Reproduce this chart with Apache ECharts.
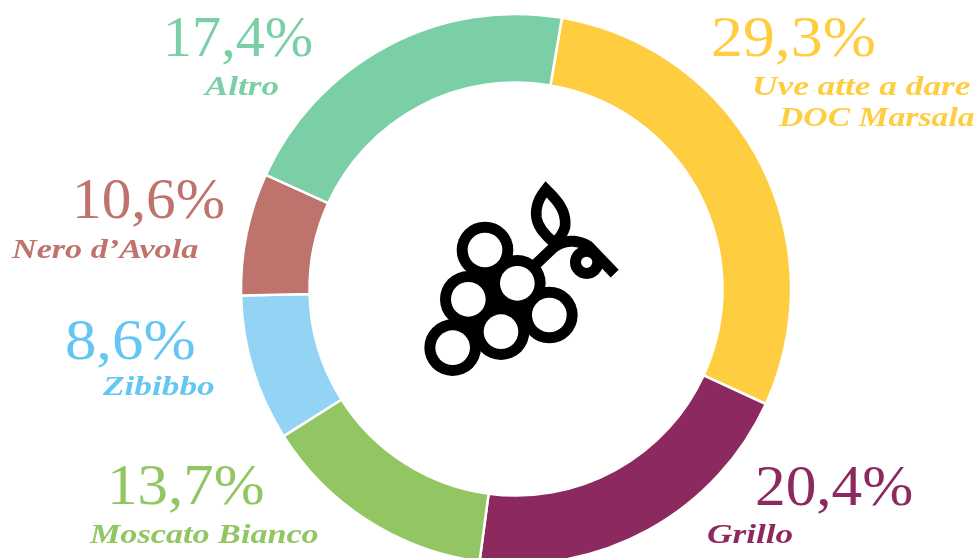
<!DOCTYPE html>
<html>
<head>
<meta charset="utf-8">
<style>html,body{margin:0;padding:0;background:#fff}#c{width:978px;height:558px}</style>
<script src="https://cdn.jsdelivr.net/npm/echarts@6/dist/echarts.min.js"></script>
</head>
<body>
<div id="c"></div>
<script>
const names = ['Uve atte a dare\nDOC Marsala', 'Grillo', 'Moscato Bianco', 'Zibibbo', "Nero d’Avola", 'Altro'];
// Percentages as printed on the chart
const printedShares = [29.3, 20.4, 13.7, 8.6, 10.6, 17.4];
// Slice sizes as measured from the ring (the picture's arcs differ from its printed labels)
const sliceValues = [29.2, 20.25, 13.9, 8.6, 7.2, 20.85];
const sliceColors = ['#FFCD40', '#8C2A5F', '#92C662', '#93D4F4', '#BE736D', '#7BCFA6'];
const textColors = ['#FFCD40', '#8C2A5F', '#92C662', '#64C6F2', '#BE736D', '#7BCFA6'];

const percentAnchors = [[711, 41], [755, 490], [107, 489], [65, 344], [72, 203], [163, 41]];
const percentStretch = [1.12, 1.075, 1.07, 1.10, 1.04, 1.02];
const nameAnchors = [[752, 88], [707, 536], [90, 536], [103, 388], [12, 251], [205, 88]];
const nameStretch = [1.26, 1.26, 1.22, 1.26, 1.22, 1.25];
const serif = '"Liberation Serif", serif';

const texts = [];
printedShares.forEach((v, i) => {
  texts.push({
    type: 'text', silent: true, x: percentAnchors[i][0], y: percentAnchors[i][1], scaleX: percentStretch[i],
    style: { text: v.toFixed(1).replace('.', ',') + '%', fill: textColors[i], font: '400 57px ' + serif, textAlign: 'left', textVerticalAlign: 'middle' }
  });
  names[i].split('\n').forEach((line, k) => {
    texts.push({
      type: 'text', silent: true, x: nameAnchors[i][0] + (k ? 27 : 0), y: nameAnchors[i][1] + k * 31, scaleX: nameStretch[i] * (k ? 0.955 : 1),
      style: { text: line, fill: textColors[i], font: 'italic 700 28px ' + serif, textAlign: 'left', textVerticalAlign: 'middle' }
    });
  });
});

// Sample cubic segments into outline points for the decorative grape icon.
function outline(start, curves) {
  const pts = [start];
  let p0 = start;
  curves.forEach(c => {
    if (c.length === 2) { pts.push(c); p0 = c; return; }
    const p3 = [c[4], c[5]];
    for (let s = 1; s <= 24; s++) {
      const t = s / 24, u = 1 - t;
      pts.push([
        u*u*u*p0[0] + 3*u*u*t*c[0] + 3*u*t*t*c[2] + t*t*t*p3[0],
        u*u*u*p0[1] + 3*u*u*t*c[1] + 3*u*t*t*c[3] + t*t*t*p3[1]
      ]);
    }
    p0 = p3;
  });
  return pts;
}

const berries = [[225, 240], [322, 340], [175, 388], [418, 435], [273, 485], [128, 533]];
const iconParts = [];
berries.forEach(b => iconParts.push({ type: 'circle', silent: true, shape: { cx: b[0], cy: b[1], r: 85 }, style: { fill: '#000' } }));
iconParts.push({ type: 'polygon', silent: true, shape: { points: [[225,300],[322,300],[418,400],[273,500],[175,480]] }, style: { fill: '#000' } });
iconParts.push({ type: 'polyline', silent: true,
  shape: { points: outline([365, 295], [[428, 235], [455, 212, 495, 205, 535, 228], [614, 311]]) },
  style: { fill: 'none', stroke: '#000', lineWidth: 33, lineJoin: 'round' } });
iconParts.push({ type: 'circle', silent: true, shape: { cx: 530, cy: 277, r: 33.5 }, style: { fill: 'none', stroke: '#000', lineWidth: 33 } });
iconParts.push({ type: 'polygon', silent: true,
  shape: { points: outline([408, 58], [[440, 90, 470, 120, 465, 170], [460, 190, 448, 205, 432, 218], [400, 190, 372, 160, 380, 115], [384, 90, 395, 75, 408, 58]]) },
  style: { fill: 'none', stroke: '#000', lineWidth: 32, lineJoin: 'miter', miterLimit: 6 } });
berries.forEach(b => iconParts.push({ type: 'circle', silent: true, shape: { cx: b[0], cy: b[1], r: 52 }, style: { fill: '#fff' } }));

const chart = echarts.init(document.getElementById('c'), null, { renderer: 'canvas' });
chart.setOption({
  animation: false,
  backgroundColor: '#fff',
  series: [{
    type: 'pie',
    center: [516, 289],
    radius: [206.5, 275],
    startAngle: 80.4,
    clockwise: true,
    silent: true,
    label: { show: false },
    labelLine: { show: false },
    itemStyle: { borderColor: '#fff', borderWidth: 2.5 },
    data: sliceValues.map((v, i) => ({ name: names[i], value: v, itemStyle: { color: sliceColors[i] } }))
  }],
  graphic: [
    ...texts,
    { type: 'group', x: 410, y: 170, scaleX: 1 / 3, scaleY: 1 / 3, children: iconParts }
  ]
});
</script>
</body>
</html>
